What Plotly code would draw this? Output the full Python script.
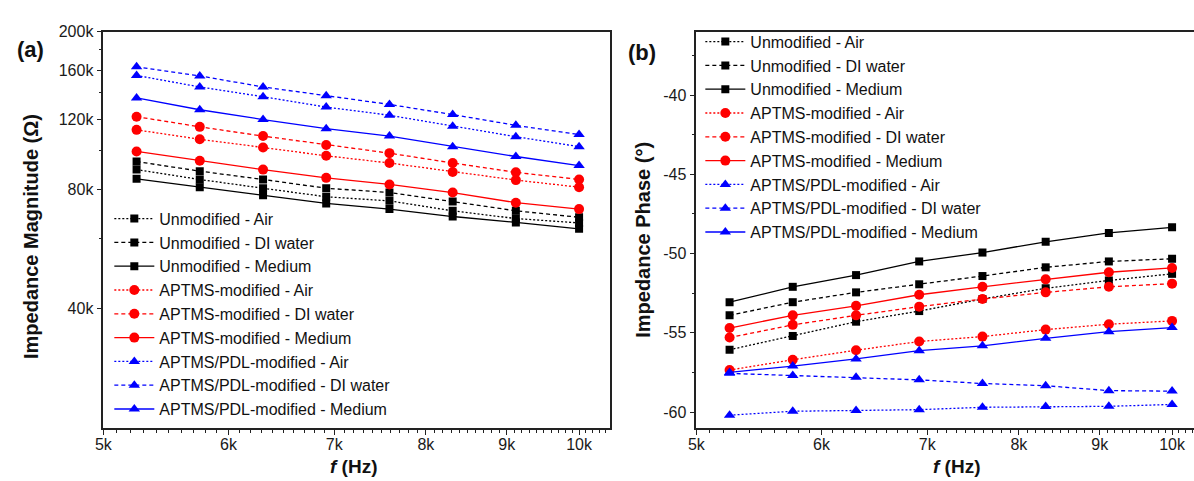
import math
import plotly.graph_objects as go

# ---------------- data ----------------
freq_hz = [5248, 5754, 6310, 6918, 7586, 8318, 9120, 10000]

series_names = [
    "Unmodified - Air", "Unmodified - DI water", "Unmodified - Medium",
    "APTMS-modified - Air", "APTMS-modified - DI water", "APTMS-modified - Medium",
    "APTMS/PDL-modified - Air", "APTMS/PDL-modified - DI water", "APTMS/PDL-modified - Medium",
]

# Impedance magnitude (ohm)
mag_unmod_air = [89700, 84700, 80500, 76600, 74800, 70600, 67500, 65800]
mag_unmod_di = [94000, 88900, 84700, 80500, 78500, 74500, 70600, 68000]
mag_unmod_med = [85000, 81000, 77300, 73700, 71300, 68300, 66000, 63600]
mag_aptms_air = [113000, 107000, 102000, 97200, 93200, 88500, 84400, 81000]
mag_aptms_di = [122000, 115000, 109000, 103500, 98700, 93200, 88300, 84700]
mag_aptms_med = [99700, 94400, 89700, 85500, 82300, 78500, 74000, 71300]
mag_pdl_air = [155000, 145000, 137000, 129000, 123000, 115400, 108600, 102500]
mag_pdl_di = [163000, 154600, 145000, 137800, 131000, 123500, 116000, 110000]
mag_pdl_med = [136000, 127000, 120000, 113800, 109000, 102500, 96800, 91800]

# Impedance phase (deg)
ph_unmod_air = [-56.07, -55.2, -54.3, -53.63, -52.87, -52.19, -51.7, -51.28]
ph_unmod_di = [-53.9, -53.07, -52.45, -51.94, -51.42, -50.87, -50.5, -50.33]
ph_unmod_med = [-53.07, -52.1, -51.36, -50.5, -49.94, -49.26, -48.7, -48.35]
ph_aptms_air = [-57.35, -56.7, -56.1, -55.55, -55.24, -54.8, -54.46, -54.25]
ph_aptms_di = [-55.3, -54.5, -53.9, -53.35, -52.87, -52.45, -52.1, -51.9]
ph_aptms_med = [-54.7, -53.9, -53.3, -52.6, -52.1, -51.63, -51.18, -50.91]
ph_pdl_air = [-60.2, -59.95, -59.9, -59.85, -59.7, -59.65, -59.64, -59.52]
ph_pdl_di = [-57.56, -57.7, -57.8, -57.97, -58.2, -58.34, -58.65, -58.68]
ph_pdl_med = [-57.5, -57.1, -56.65, -56.13, -55.82, -55.35, -54.93, -54.67]

mag_series = [mag_unmod_air, mag_unmod_di, mag_unmod_med,
              mag_aptms_air, mag_aptms_di, mag_aptms_med,
              mag_pdl_air, mag_pdl_di, mag_pdl_med]
ph_series = [ph_unmod_air, ph_unmod_di, ph_unmod_med,
             ph_aptms_air, ph_aptms_di, ph_aptms_med,
             ph_pdl_air, ph_pdl_di, ph_pdl_med]

x_tickvals = [5000, 6000, 7000, 8000, 9000, 10000]
x_ticktext = ["5k", "6k", "7k", "8k", "9k", "10k"]
mag_tickvals = [40000, 80000, 120000, 160000, 200000]
mag_ticktext = ["40k", "80k", "120k", "160k", "200k"]
ph_tickvals = [-60, -55, -50, -45, -40]
ph_ticktext = ["-60", "-55", "-50", "-45", "-40"]

# ---------------- styles ----------------
colors = ["#000000"] * 3 + ["#ff0000"] * 3 + ["#0000ff"] * 3
dashes = ["2px,2px", "4px,3px", "solid"] * 3
symbols = ["square"] * 3 + ["circle"] * 3 + ["triangle-up"] * 3
msizes = [8] * 3 + [10] * 3 + [10] * 3

FONT = "Arial, Liberation Sans, Helvetica, sans-serif"
W, H = 1194, 481

fig = go.Figure()
for panel, data, legend_id in (("1", mag_series, "legend"), ("2", ph_series, "legend2")):
    for i, name in enumerate(series_names):
        fig.add_trace(go.Scatter(
            x=freq_hz, y=data[i], mode="lines+markers", name=name,
            xaxis="x" if panel == "1" else "x2",
            yaxis="y" if panel == "1" else "y2",
            legend=legend_id,
            line=dict(color=colors[i], dash=dashes[i], width=1.3),
            marker=dict(symbol=symbols[i], size=msizes[i], color=colors[i],
                        line=dict(width=0)),
        ))

# plot-area pixel boxes
L1, R1 = 96, 606
L2, R2 = 693, 1194
TOP, BOT = 24, 427
px_per_decade = (R1 - L1) / (math.log10(10460) - math.log10(5000))
x2_end = 10 ** (math.log10(5000) + (R2 - L2) / px_per_decade)

minor_x = [f for f in range(5100, 10500, 100) if f % 1000 != 0]

tick_common = dict(
    ticks="outside", ticklen=5, tickwidth=1.2, tickcolor="#222",
    showgrid=False, zeroline=False, showline=True, linecolor="#222", linewidth=1.5,
    tickfont=dict(family=FONT, size=16, color="#1a1a1a"),
)
minor_common = dict(ticks="outside", ticklen=3, tickcolor="#222", tickwidth=1)

fig.update_layout(
    width=W, height=H,
    margin=dict(l=0, r=0, t=0, b=0),
    paper_bgcolor="white", plot_bgcolor="white",
    showlegend=True,
    xaxis=dict(type="log", domain=[L1 / W, R1 / W], anchor="y", mirror=True,
               range=[math.log10(5000), math.log10(10460)],
               tickvals=x_tickvals, ticktext=x_ticktext, ticklabelstandoff=-4,
               minor=dict(tickvals=minor_x, **minor_common),
               **tick_common),
    yaxis=dict(type="log", domain=[1 - BOT / H, 1 - TOP / H], anchor="x", mirror=True,
               range=[math.log10(20000), math.log10(200000)],
               tickvals=mag_tickvals, ticktext=mag_ticktext,
               minor=dict(tickvals=[60000, 100000, 140000, 180000], **minor_common),
               **tick_common),
    xaxis2=dict(type="log", domain=[L2 / W, R2 / W], anchor="y2", mirror=True,
                range=[math.log10(5000), math.log10(x2_end)],
                tickvals=x_tickvals, ticktext=x_ticktext, ticklabelstandoff=-4,
                minor=dict(tickvals=minor_x, **minor_common),
                **tick_common),
    yaxis2=dict(domain=[1 - BOT / H, 1 - TOP / H], anchor="x2", mirror=False,
                range=[-61, -36], tickvals=ph_tickvals, ticktext=ph_ticktext,
                minor=dict(tickvals=[-57.5, -52.5, -47.5, -42.5, -37.5], **minor_common),
                **tick_common),
    legend=dict(x=102 / W, y=1 - 197 / H, xanchor="left", yanchor="top",
                bgcolor="rgba(0,0,0,0)", font=dict(family=FONT, size=16, color="#111"),
                tracegroupgap=0, itemwidth=40),
    legend2=dict(x=697 / W, y=1 - 17 / H, xanchor="left", yanchor="top",
                 bgcolor="rgba(0,0,0,0)", font=dict(family=FONT, size=16, color="#111"),
                 tracegroupgap=0, itemwidth=40),
)

def label(text, x, y, size, angle=0):
    return dict(text=text, x=x / W, y=1 - y / H, xref="paper", yref="paper",
                xanchor="center", yanchor="middle", showarrow=False, textangle=angle,
                font=dict(family=FONT, size=size, color="#111"))

ann = [
    label("<b>(a)</b>", 23, 42, 22),
    label("<b>(b)</b>", 638, 45, 22),
    label("<b>Impedance Magnitude (Ω)</b>", 23, 232, 20, -90),
    label("<b>Impedance Phase (°)</b>", 639, 236, 20, -90),
    label("<b><i>f</i> (Hz)</b>", 348, 466, 19),
    label("<b><i>f</i> (Hz)</b>", 955, 466, 19),
]
fig.update_layout(annotations=ann)

# remove the default page margin so the figure fills the window exactly
fig.write_html("out.html",
               config={"displayModeBar": False},
               post_script="document.body.style.margin='0';"
                           "document.body.style.overflow='hidden';")
